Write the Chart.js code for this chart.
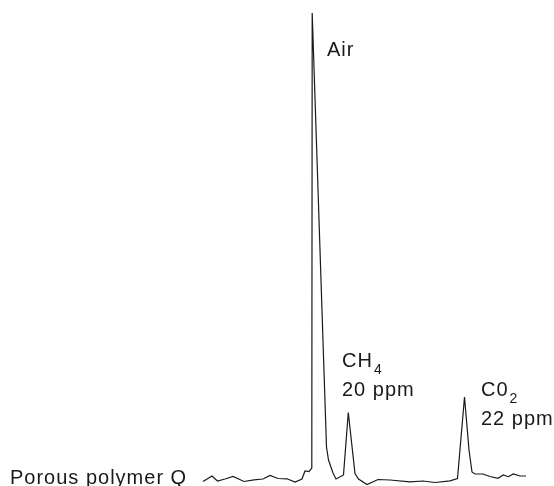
<!DOCTYPE html>
<html>
<head>
<meta charset="utf-8">
<script src="https://cdn.jsdelivr.net/npm/chart.js@4/dist/chart.umd.min.js"></script>
<style>
  html, body { margin: 0; padding: 0; background: #ffffff; }
  #wrap { width: 554px; height: 486px; }
</style>
</head>
<body>
<div id="wrap"><canvas id="c" width="554" height="486"></canvas></div>
<script>
// Retention time (arbitrary units) of each sampled point of the trace
const times = [203, 212, 217.5, 225, 233, 244, 254, 263, 270, 278, 287, 295, 302, 305, 309, 311.8,
  312.2, 326.5, 328.5, 333, 336, 343.5, 348.3, 355, 358.5, 367, 378, 390, 410, 423, 435, 450,
  457.5, 464.5, 469, 472, 475, 483, 490, 498, 503.3, 508.3, 513.3, 520, 526];
// Detector response (arbitrary units)
const response = [4.5, 10, 5, 7, 9.5, 4.5, 6.2, 7, 10.5, 7.5, 7.2, 4, 7, 15, 14.5, 18,
  473, 39, 26, 13, 7, 11, 73.5, 12.5, 7, 1.5, 6.5, 6, 4.2, 5, 3.5, 5.2,
  7.5, 89, 36, 14, 12, 12, 9.5, 7.7, 11, 9.3, 12, 10, 10];

// Peak labels: text lines, anchor (time, response) of first line baseline, subscript
const labelTexts = [["Air"], ["CH", "20 ppm"], ["C0", "22 ppm"], ["Porous polymer Q"]];
const labelSubs = ["", "4", "2", ""];
const labelTimes = [327, 342, 481, 10];
const labelResp = [430, 119, 90, 2];

const points = times.map((t, i) => ({ x: t, y: response[i] }));

const labelPlugin = {
  id: 'peakLabels',
  afterDatasetsDraw(chart) {
    const ctx = chart.ctx;
    const xs = chart.scales.x, ys = chart.scales.y;
    ctx.save();
    ctx.fillStyle = '#1a1a1a';
    ctx.textBaseline = 'alphabetic';
    ctx.textAlign = 'left';
    labelTexts.forEach((lines, i) => {
      const px = xs.getPixelForValue(labelTimes[i]);
      let py = ys.getPixelForValue(labelResp[i]);
      lines.forEach((txt, j) => {
        ctx.font = '20px "Liberation Sans", Arial, Helvetica, sans-serif';
        try { ctx.letterSpacing = '1px'; } catch (e) {}
        ctx.fillText(txt, px, py + j * 28.5);
        if (j === 0 && labelSubs[i]) {
          const w = ctx.measureText(txt).width;
          ctx.font = '14px "Liberation Sans", Arial, Helvetica, sans-serif';
          ctx.fillText(labelSubs[i], px + w + 1, py + 7);
        }
      });
    });
    ctx.restore();
  }
};

new Chart(document.getElementById('c'), {
  type: 'scatter',
  data: {
    datasets: [{
      data: points,
      showLine: true,
      borderColor: '#1a1a1a',
      borderWidth: 1.2,
      pointRadius: 0,
      tension: 0,
      fill: false
    }]
  },
  options: {
    responsive: false,
    animation: false,
    layout: { padding: 0 },
    plugins: { legend: { display: false }, tooltip: { enabled: false }, title: { display: false } },
    scales: {
      x: { type: 'linear', display: false, min: 0, max: 554 },
      y: { type: 'linear', display: false, min: 0, max: 486 }
    }
  },
  plugins: [labelPlugin]
});
</script>
</body>
</html>
